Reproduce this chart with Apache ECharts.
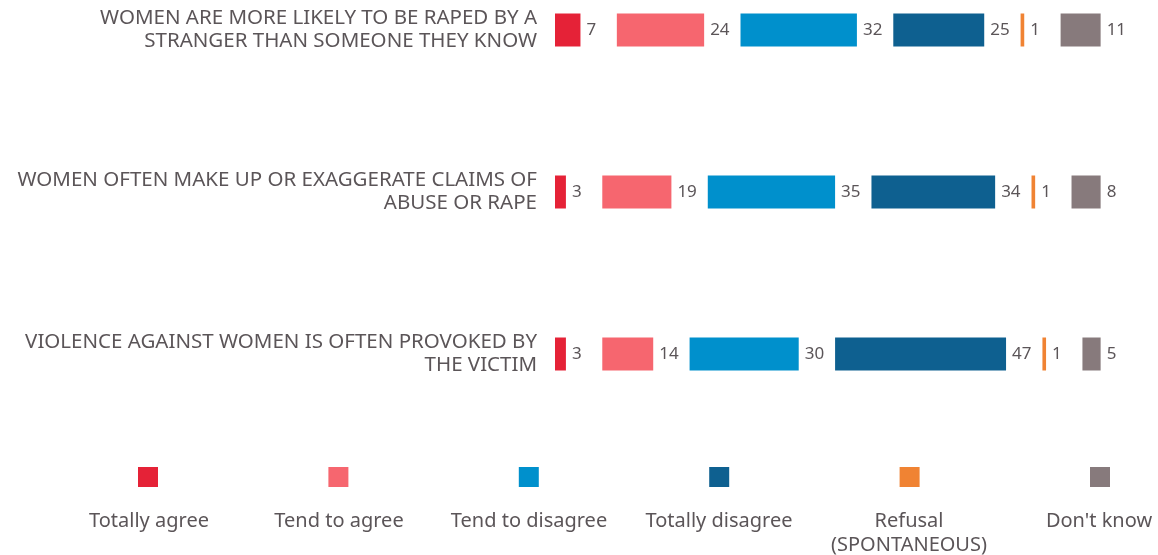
<!DOCTYPE html>
<html>
<head>
<meta charset="utf-8">
<script src="https://cdn.jsdelivr.net/npm/echarts@6/dist/echarts.min.js"></script>
<style>
  html, body { margin: 0; padding: 0; background: #fff; }
  #chart { width: 1158px; height: 555px; }
</style>
</head>
<body>
<div id="chart"></div>
<script>
// statements (top to bottom)
var statements = [
  'WOMEN ARE MORE LIKELY TO BE RAPED BY A\nSTRANGER THAN SOMEONE THEY KNOW',
  'WOMEN OFTEN MAKE UP OR EXAGGERATE CLAIMS OF\nABUSE OR RAPE',
  'VIOLENCE AGAINST WOMEN IS OFTEN PROVOKED BY\nTHE VICTIM'
];

var answers = ['Totally agree', 'Tend to agree', 'Tend to disagree', 'Totally disagree', 'Refusal (SPONTANEOUS)', "Don't know"];
var legendText = ['Totally agree', 'Tend to agree', 'Tend to disagree', 'Totally disagree', 'Refusal\n(SPONTANEOUS)', "Don't know"];

// % per answer, one value per statement
var totallyAgree = [7, 3, 3];
var tendToAgree = [24, 19, 14];
var tendToDisagree = [32, 35, 30];
var totallyDisagree = [25, 34, 47];
var refusal = [1, 1, 1];
var dontKnow = [11, 8, 5];

var colors = ['#e52237', '#f6666f', '#0090cc', '#0e6090', '#f08333', '#877a7c'];
var gapSize = 10; // blank space between the groups, in %
var textColor = '#5b5558';

var values = [totallyAgree, tendToAgree, tendToDisagree, totallyDisagree, refusal, dontKnow];

var series = [];
values.forEach(function(v, i) {
  series.push({
    name: answers[i],
    type: 'bar',
    stack: 'total',
    barWidth: 33,
    itemStyle: { color: colors[i] },
    label: {
      show: true,
      position: 'right',
      distance: 6,
      fontFamily: 'Noto Sans',
      fontSize: 17,
      color: textColor
    },
    data: v
  });
  if (i < values.length - 1) {
    // invisible spacer
    series.push({
      type: 'bar',
      stack: 'total',
      barWidth: 33,
      silent: true,
      itemStyle: { color: 'transparent' },
      data: statements.map(function() { return gapSize; })
    });
  }
});

var chart = echarts.init(document.getElementById('chart'));

var option = {
  animation: false,
  color: colors,
  grid: {
    left: 555,
    right: 21,
    top: -51,
    height: 486,
    outerBoundsMode: 'none'
  },
  xAxis: {
    type: 'value',
    min: 0,
    max: 160,
    show: false
  },
  yAxis: {
    type: 'category',
    inverse: true,
    data: statements,
    axisLine: { show: false },
    axisTick: { show: false },
    axisLabel: {
      margin: 18,
      fontFamily: 'Noto Sans',
      fontSize: 20.5,
      lineHeight: 23,
      padding: [5, 0, 0, 0],
      color: textColor,
      align: 'right'
    }
  },
  legend: answers.map(function(name, i) {
    return {
      data: [name],
      left: 138 + i * 190.4,
      top: 467,
      icon: 'rect',
      itemWidth: 20,
      itemHeight: 20,
      padding: 0,
      selectedMode: false,
      formatter: function() { return ''; }
    };
  }),
  graphic: legendText.map(function(t, i) {
    return {
      type: 'text',
      x: 149 + i * 190,
      y: 509,
      style: {
        text: t,
        fill: textColor,
        font: '20px "Noto Sans"',
        lineHeight: 24,
        align: 'center',
        verticalAlign: 'top'
      }
    };
  }),
  series: series
};

chart.setOption(option);
</script>
</body>
</html>
